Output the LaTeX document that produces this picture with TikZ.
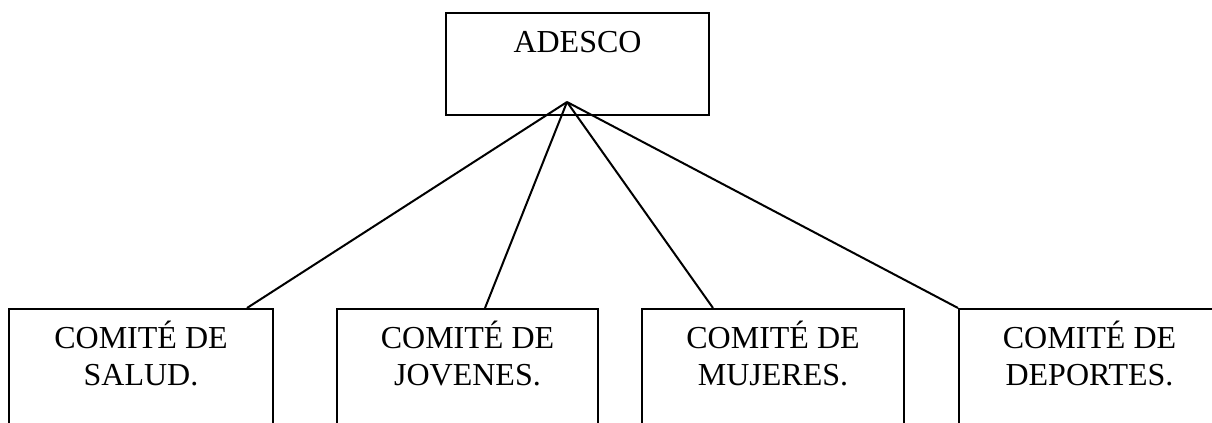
\documentclass[tikz,border=0pt]{standalone}
\usepackage{fontspec}
\setmainfont{Liberation Serif}
\usetikzlibrary{calc}
\def\px{0.75pt}
\begin{document}
\begin{tikzpicture}[x=0.75pt,y=-0.75pt,
  box/.style={draw, line width=1.5pt, rectangle, inner sep=0pt, anchor=north west},
  lbl/.style={font=\fontsize{24pt}{27.75pt}\selectfont, align=center, anchor=base, inner sep=0pt},
  link/.style={line width=1.5pt}]
\useasboundingbox (0,0) rectangle (1212,422);
\clip (0,0) rectangle (1212,422);
% top box
\node[box, minimum width=263*\px, minimum height=102*\px] (top) at (445,12) {};
\node[lbl] (ttop) at ($(top.north)+(0,40)$) {ADESCO};
% bottom boxes
\node[box, minimum width=264*\px, minimum height=150*\px] (b1) at (8,308) {};
\node[box, minimum width=261*\px, minimum height=150*\px] (b2) at (336,308) {};
\node[box, minimum width=262*\px, minimum height=150*\px] (b3) at (641,308) {};
\node[box, minimum width=261*\px, minimum height=150*\px] (b4) at (958,308) {};
% two-line labels: base anchor is the baseline of the last line
\node[lbl] (t1) at ($(b1.north)+(0,77)$) {COMITÉ DE\\SALUD.};
\node[lbl] (t2) at ($(b2.north)+(0,77)$) {COMITÉ DE\\JOVENES.};
\node[lbl] (t3) at ($(b3.north)+(0,77)$) {COMITÉ DE\\MUJERES.};
\node[lbl] (t4) at ($(b4.north)+(0,77)$) {COMITÉ DE\\DEPORTES.};
% connectors
\coordinate (apex) at (567,102);
\draw[link] (apex) -- ($(b1.north west)+(239,0)$);
\draw[link] (apex) -- ($(b2.north west)+(149,0)$);
\draw[link] (apex) -- ($(b3.north west)+(72,0)$);
\draw[link] (apex) -- (b4.north west);
\end{tikzpicture}
\end{document}
